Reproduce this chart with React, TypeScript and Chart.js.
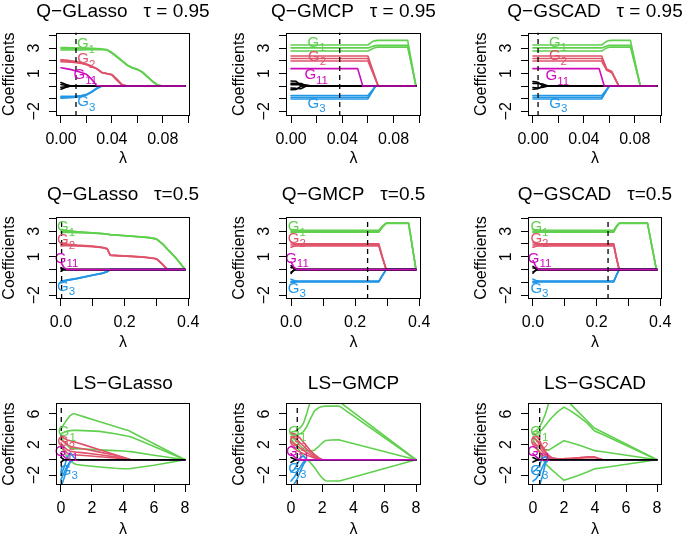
import React, { useEffect, useRef } from "react";
import { Chart, registerables } from "chart.js";

Chart.register(...registerables);

const FONT = '"Liberation Sans", Arial, Helvetica, sans-serif';
const GREEN = "#61D04F";
const RED = "#DF536B";
const MAGENTA = "#CD0BBC";
const BLUE = "#2297E6";
const BLACK = "#000000";

// ---------- axes ----------
const q95XTicks = [0, 0.02, 0.04, 0.06, 0.08, 0.1];
const q95XLabels = ["0.00", "", "0.04", "", "0.08", ""];
const q50XTicks = [0, 0.1, 0.2, 0.3, 0.4];
const q50XLabels = ["0.0", "", "0.2", "", "0.4"];
const lsXTicks = [0, 2, 4, 6, 8];
const lsXLabels = ["0", "2", "4", "6", "8"];
const qYTicks = [-2, -1, 0, 1, 2, 3, 4];
const qYLabels = ["−2", "", "", "1", "", "3", ""];
const lsYTicks = [-2, 0, 2, 4, 6];
const lsYLabels = ["−2", "", "2", "", "6"];

const q95XRange = [-0.0039, 0.1014];
const q50XRange = [-0.0156, 0.4056];
const lsXRange = [-0.32, 8.32];
const q95YRange = [-2.37, 4.24];
const q50YRange = [-2.3, 4.11];
const lsYRange = [-3.31, 7.4];

const groupSubs = ["1", "2", "11", "3"];

// ---------- Panel 1: Q-GLasso tau = 0.95 ----------
const qgl95Lambda = [0, 0.004, 0.008, 0.012, 0.016, 0.02, 0.024, 0.028, 0.032, 0.036, 0.04, 0.044, 0.048, 0.052, 0.056, 0.06, 0.064, 0.068, 0.072, 0.076, 0.08, 0.0975];
const qgl95G1 = [
  [3.05, 3.04, 3.03, 3.02, 3.01, 3.0, 2.98, 2.96, 2.94, 2.9, 2.66, 2.35, 2.02, 1.68, 1.47, 1.34, 1.12, 0.75, 0.38, 0.09, 0, 0],
  [2.95, 2.95, 2.94, 2.94, 2.93, 2.93, 2.92, 2.92, 2.91, 2.88, 2.63, 2.32, 2.0, 1.66, 1.45, 1.32, 1.1, 0.73, 0.36, 0.08, 0, 0],
  [2.85, 2.85, 2.86, 2.86, 2.86, 2.87, 2.87, 2.88, 2.88, 2.86, 2.6, 2.3, 1.97, 1.64, 1.43, 1.3, 1.08, 0.71, 0.34, 0.07, 0, 0],
];
const qgl95G2 = [
  [2.08, 2.06, 2.0, 1.95, 1.85, 1.75, 1.58, 1.4, 1.1, 1.0, 0.92, 0.55, 0.12, 0, 0, 0, 0, 0, 0, 0, 0, 0],
  [2.0, 1.98, 1.95, 1.9, 1.82, 1.72, 1.55, 1.38, 1.08, 0.99, 0.9, 0.5, 0.1, 0, 0, 0, 0, 0, 0, 0, 0, 0],
  [1.92, 1.9, 1.88, 1.85, 1.78, 1.69, 1.52, 1.36, 1.06, 0.98, 0.88, 0.45, 0.08, 0, 0, 0, 0, 0, 0, 0, 0, 0],
];
const qgl95G11 = [
  [1.45, 1.38, 1.3, 1.2, 1.08, 0.93, 0.55, 0.05, 0, 0, 0, 0, 0, 0, 0, 0, 0, 0, 0, 0, 0, 0],
];
const qgl95G3 = [
  [-0.82, -0.82, -0.81, -0.79, -0.75, -0.66, -0.45, -0.17, 0, 0, 0, 0, 0, 0, 0, 0, 0, 0, 0, 0, 0, 0],
  [-0.9, -0.89, -0.87, -0.84, -0.78, -0.69, -0.48, -0.2, 0, 0, 0, 0, 0, 0, 0, 0, 0, 0, 0, 0, 0, 0],
  [-0.97, -0.95, -0.92, -0.88, -0.82, -0.72, -0.5, -0.22, 0, 0, 0, 0, 0, 0, 0, 0, 0, 0, 0, 0, 0, 0],
];
const qgl95Other = [
  [0.28, 0.12, 0, 0, 0, 0, 0, 0, 0, 0, 0, 0, 0, 0, 0, 0, 0, 0, 0, 0, 0, 0],
  [0.12, 0.05, 0, 0, 0, 0, 0, 0, 0, 0, 0, 0, 0, 0, 0, 0, 0, 0, 0, 0, 0, 0],
  [-0.1, -0.05, 0, 0, 0, 0, 0, 0, 0, 0, 0, 0, 0, 0, 0, 0, 0, 0, 0, 0, 0, 0],
  [-0.25, -0.1, 0, 0, 0, 0, 0, 0, 0, 0, 0, 0, 0, 0, 0, 0, 0, 0, 0, 0, 0, 0],
];
const qgl95Cut = 0.0118;
const qgl95LabelX = [0.0171, 0.0174, 0.0145, 0.0174];
const qgl95LabelY = [3.32, 2.12, 0.85, -1.27];

// ---------- Panel 2: Q-GMCP tau = 0.95 ----------
const qgm95Lambda = [0, 0.004, 0.008, 0.012, 0.016, 0.052, 0.056, 0.06, 0.064, 0.066, 0.068, 0.091, 0.0975];
const qgm95G1 = [
  [3.25, 3.25, 3.25, 3.25, 3.25, 3.25, 3.25, 3.25, 3.55, 3.6, 3.62, 3.62, 0],
  [3.02, 3.02, 3.02, 3.02, 3.02, 3.02, 3.02, 3.02, 3.16, 3.2, 3.22, 3.22, 0],
  [2.78, 2.78, 2.78, 2.78, 2.78, 2.78, 2.78, 2.78, 2.98, 3.05, 3.08, 3.08, 0],
];
const qgm95G2 = [
  [2.38, 2.38, 2.38, 2.38, 2.38, 2.38, 2.38, 2.38, 1.2, 0.6, 0, 0, 0],
  [2.18, 2.18, 2.18, 2.18, 2.18, 2.18, 2.18, 2.18, 1.1, 0.55, 0, 0, 0],
  [1.98, 1.98, 1.98, 1.98, 1.98, 1.98, 1.98, 1.98, 1.0, 0.5, 0, 0, 0],
];
const qgm95G11 = [[1.38, 1.38, 1.38, 1.38, 1.38, 1.38, 0, 0, 0, 0, 0, 0, 0]];
const qgm95G3 = [
  [-0.75, -0.75, -0.75, -0.75, -0.75, -0.75, -0.75, -0.75, -0.25, 0, 0, 0, 0],
  [-0.88, -0.88, -0.88, -0.88, -0.88, -0.88, -0.88, -0.88, -0.3, 0, 0, 0, 0],
  [-1.02, -1.02, -1.02, -1.02, -1.02, -1.02, -1.02, -1.02, -0.34, 0, 0, 0, 0],
];
const qgm95Other = [
  [0.4, 0.38, 0, 0, 0, 0, 0, 0, 0, 0, 0, 0, 0],
  [0.22, 0.22, 0.2, 0, 0, 0, 0, 0, 0, 0, 0, 0, 0],
  [0.1, 0.1, 0.1, 0.08, 0, 0, 0, 0, 0, 0, 0, 0, 0],
  [-0.15, -0.18, -0.2, 0, 0, 0, 0, 0, 0, 0, 0, 0, 0],
  [-0.28, -0.26, 0, 0, 0, 0, 0, 0, 0, 0, 0, 0, 0],
];
const qgm95Cut = 0.038;
const qgm95LabelX = [0.0174, 0.0179, 0.015, 0.0174];
const qgm95LabelY = [3.45, 2.33, 0.85, -1.4];

// ---------- Panel 3: Q-GSCAD tau = 0.95 ----------
const qgs95Lambda = [0, 0.004, 0.008, 0.012, 0.016, 0.052, 0.054, 0.056, 0.058, 0.06, 0.062, 0.0675, 0.0766, 0.0844, 0.0975];
const qgs95G1 = [
  [3.25, 3.25, 3.25, 3.25, 3.25, 3.25, 3.25, 3.4, 3.55, 3.6, 3.62, 3.62, 3.62, 0, 0],
  [3.02, 3.02, 3.02, 3.02, 3.02, 3.02, 3.02, 3.1, 3.18, 3.22, 3.22, 3.22, 3.22, 0, 0],
  [2.78, 2.78, 2.78, 2.78, 2.78, 2.78, 2.78, 2.9, 3.02, 3.08, 3.08, 3.08, 3.08, 0, 0],
];
const qgs95G2 = [
  [2.38, 2.38, 2.38, 2.38, 2.38, 2.38, 2.38, 1.87, 1.35, 1.25, 1.15, 0, 0, 0, 0],
  [2.18, 2.18, 2.18, 2.18, 2.18, 2.18, 2.18, 1.74, 1.3, 1.2, 1.1, 0, 0, 0, 0],
  [1.98, 1.98, 1.98, 1.98, 1.98, 1.98, 1.98, 1.6, 1.25, 1.15, 1.05, 0, 0, 0, 0],
];
const qgs95G11 = [[1.38, 1.38, 1.38, 1.38, 1.38, 1.38, 0.69, 0, 0, 0, 0, 0, 0, 0, 0]];
const qgs95G3 = [
  [-0.75, -0.75, -0.75, -0.75, -0.75, -0.75, -0.75, -0.5, -0.25, 0, 0, 0, 0, 0, 0],
  [-0.88, -0.88, -0.88, -0.88, -0.88, -0.88, -0.88, -0.59, -0.29, 0, 0, 0, 0, 0, 0],
  [-1.02, -1.02, -1.02, -1.02, -1.02, -1.02, -1.02, -0.68, -0.34, 0, 0, 0, 0, 0, 0],
];
const qgs95Other = [
  [0.35, 0.3, 0, 0, 0, 0, 0, 0, 0, 0, 0, 0, 0, 0, 0],
  [0.2, 0.2, 0.15, 0, 0, 0, 0, 0, 0, 0, 0, 0, 0, 0, 0],
  [-0.12, -0.15, -0.1, 0, 0, 0, 0, 0, 0, 0, 0, 0, 0, 0, 0],
  [-0.25, -0.2, 0, 0, 0, 0, 0, 0, 0, 0, 0, 0, 0, 0, 0],
];
const qgs95Cut = 0.004;
const qgs95LabelX = [0.0171, 0.0171, 0.0145, 0.0174];
const qgs95LabelY = [3.45, 2.39, 0.8, -1.4];

// ---------- Panel 4: Q-GLasso tau = 0.5 ----------
const qgl50Lambda = [0, 0.01, 0.02, 0.05, 0.1, 0.13, 0.145, 0.155, 0.2, 0.25, 0.28, 0.3, 0.32, 0.335, 0.345, 0.36, 0.375, 0.39];
const qgl50G1 = [
  [3.15, 3.1, 3.06, 2.98, 2.88, 2.82, 2.78, 2.74, 2.66, 2.57, 2.5, 2.4, 2.0, 1.6, 1.35, 0.95, 0.5, 0],
  [3.02, 3.0, 2.98, 2.94, 2.86, 2.81, 2.77, 2.73, 2.65, 2.56, 2.49, 2.39, 1.99, 1.59, 1.34, 0.94, 0.49, 0],
  [2.9, 2.9, 2.9, 2.88, 2.84, 2.8, 2.76, 2.72, 2.64, 2.55, 2.48, 2.38, 1.98, 1.58, 1.33, 0.93, 0.48, 0],
];
const qgl50G2 = [
  [2.1, 2.05, 2.0, 1.92, 1.83, 1.75, 1.65, 1.13, 1.07, 1.0, 0.93, 0.85, 0.4, 0, 0, 0, 0, 0],
  [1.97, 1.95, 1.93, 1.88, 1.8, 1.73, 1.63, 1.12, 1.06, 0.99, 0.92, 0.84, 0.39, 0, 0, 0, 0, 0],
  [1.85, 1.86, 1.86, 1.84, 1.78, 1.71, 1.61, 1.11, 1.05, 0.98, 0.91, 0.83, 0.38, 0, 0, 0, 0, 0],
];
const qgl50G11 = [[0.55, 0.15, 0, 0, 0, 0, 0, 0, 0, 0, 0, 0, 0, 0, 0, 0, 0, 0]];
const qgl50G3 = [
  [-0.9, -0.85, -0.8, -0.69, -0.43, -0.28, -0.15, 0, 0, 0, 0, 0, 0, 0, 0, 0, 0, 0],
  [-0.98, -0.9, -0.83, -0.7, -0.44, -0.29, -0.16, 0, 0, 0, 0, 0, 0, 0, 0, 0, 0, 0],
  [-1.05, -0.95, -0.86, -0.71, -0.45, -0.3, -0.17, 0, 0, 0, 0, 0, 0, 0, 0, 0, 0, 0],
];
const qgl50Other = [
  [0.15, 0, 0, 0, 0, 0, 0, 0, 0, 0, 0, 0, 0, 0, 0, 0, 0, 0],
  [-0.12, 0, 0, 0, 0, 0, 0, 0, 0, 0, 0, 0, 0, 0, 0, 0, 0, 0],
  [0.06, 0.02, 0, 0, 0, 0, 0, 0, 0, 0, 0, 0, 0, 0, 0, 0, 0, 0],
];
const qgl50Cut = 0.002;
const qgl50LabelX = [0.006, 0.006, -0.001, 0.006];
const qgl50LabelY = [3.34, 2.3, 0.87, -1.34];

// ---------- Panel 5: Q-GMCP tau = 0.5 ----------
const qgm50Lambda = [0, 0.01, 0.02, 0.274, 0.285, 0.297, 0.367, 0.39];
const qgm50G1 = [
  [3.12, 3.1, 3.08, 3.08, 3.4, 3.63, 3.63, 0],
  [3.0, 3.0, 3.0, 3.0, 3.35, 3.62, 3.62, 0],
  [2.88, 2.9, 2.92, 2.92, 3.3, 3.61, 3.61, 0],
];
const qgm50G2 = [
  [2.1, 2.04, 2.02, 2.02, 1.0, 0, 0, 0],
  [1.92, 1.93, 1.93, 1.93, 0.96, 0, 0, 0],
  [1.75, 1.82, 1.84, 1.84, 0.92, 0, 0, 0],
];
const qgm50G11 = [[0.6, 0.15, 0, 0, 0, 0, 0, 0]];
const qgm50G3 = [
  [-0.75, -0.86, -0.9, -0.9, -0.45, 0, 0, 0],
  [-0.92, -0.93, -0.93, -0.93, -0.46, 0, 0, 0],
  [-1.02, -0.98, -0.96, -0.96, -0.48, 0, 0, 0],
];
const qgm50Other = [
  [0.3, 0.1, 0, 0, 0, 0, 0, 0],
  [0.15, 0.12, 0, 0, 0, 0, 0, 0],
  [-0.2, -0.05, 0, 0, 0, 0, 0, 0],
  [-0.3, 0, 0, 0, 0, 0, 0, 0],
];
const qgm50Cut = 0.239;
const qgm50LabelX = [0.0084, 0.0084, 0.0, 0.0084];
const qgm50LabelY = [3.34, 2.43, 0.87, -1.47];

// ---------- Panel 6: Q-GSCAD tau = 0.5 ----------
const qgs50Lambda = [0, 0.01, 0.02, 0.254, 0.262, 0.271, 0.36, 0.388, 0.39];
const qgs50G1 = [
  [3.12, 3.1, 3.08, 3.08, 3.4, 3.63, 3.63, 0, 0],
  [3.0, 3.0, 3.0, 3.0, 3.35, 3.62, 3.62, 0, 0],
  [2.88, 2.9, 2.92, 2.92, 3.3, 3.61, 3.61, 0, 0],
];
const qgs50G2 = [
  [2.1, 2.04, 2.02, 2.02, 1.0, 0, 0, 0, 0],
  [1.92, 1.93, 1.93, 1.93, 0.96, 0, 0, 0, 0],
  [1.75, 1.82, 1.84, 1.84, 0.92, 0, 0, 0, 0],
];
const qgs50G11 = [[0.7, 0.2, 0, 0, 0, 0, 0, 0, 0]];
const qgs50G3 = [
  [-0.75, -0.86, -0.9, -0.9, -0.45, 0, 0, 0, 0],
  [-0.92, -0.93, -0.93, -0.93, -0.46, 0, 0, 0, 0],
  [-1.02, -0.98, -0.96, -0.96, -0.48, 0, 0, 0, 0],
];
const qgs50Other = [
  [0.25, 0.08, 0, 0, 0, 0, 0, 0, 0],
  [0.12, 0.1, 0, 0, 0, 0, 0, 0, 0],
  [-0.18, -0.05, 0, 0, 0, 0, 0, 0, 0],
  [-0.28, 0, 0, 0, 0, 0, 0, 0, 0],
];
const qgs50Cut = 0.236;
const qgs50LabelX = [0.0104, 0.0104, 0.002, 0.0104];
const qgs50LabelY = [3.34, 2.43, 0.87, -1.47];

// ---------- Panel 7: LS-GLasso ----------
const lsglLambda = [0, 0.2, 0.4, 0.6, 0.8, 1.0, 1.5, 2.5, 3.5, 4.0, 4.4, 4.5, 6.0, 8.0];
const lsglG1 = [
  [4.0, 4.7, 5.3, 5.8, 6.05, 5.93, 5.62, 4.99, 4.36, 4.04, 3.79, 3.67, 2.1, 0],
  [3.4, 3.6, 3.75, 3.82, 3.85, 3.85, 3.82, 3.72, 3.4, 3.2, 3.05, 3.0, 1.75, 0],
  [2.9, 2.4, 1.9, 1.5, 1.45, 1.43, 1.4, 1.3, 1.2, 1.14, 1.08, 1.06, 0.6, 0],
  [1.8, 1.0, 0.4, -0.1, -0.45, -0.63, -0.75, -0.95, -1.12, -1.17, -1.17, -1.15, -0.72, 0],
];
const lsglG2 = [
  [3.1, 2.8, 2.6, 2.5, 2.4, 2.27, 1.95, 1.3, 0.65, 0.33, 0.05, 0, 0, 0],
  [2.6, 2.3, 2.0, 1.75, 1.65, 1.58, 1.4, 1.0, 0.58, 0.32, 0.06, 0, 0, 0],
  [2.2, 1.7, 1.3, 1.1, 1.05, 1.0, 0.9, 0.65, 0.38, 0.2, 0.03, 0, 0, 0],
  [1.8, 1.3, 0.9, 0.7, 0.65, 0.62, 0.55, 0.4, 0.22, 0.1, 0, 0, 0, 0],
];
const lsglG11 = [[0.9, 0.4, 0.1, 0, 0, 0, 0, 0, 0, 0, 0, 0, 0, 0]];
const lsglG3 = [
  [-3.6, -2.4, -1.1, -0.3, 0, 0, 0, 0, 0, 0, 0, 0, 0, 0],
  [-2.6, -1.7, -0.8, -0.2, 0, 0, 0, 0, 0, 0, 0, 0, 0, 0],
  [-2.0, -1.0, 0.3, 0.9, 0.4, 0, 0, 0, 0, 0, 0, 0, 0, 0],
];
const lsglOther = [
  [0.3, 0, 0, 0, 0, 0, 0, 0, 0, 0, 0, 0, 0, 0],
  [-0.3, 0, 0, 0, 0, 0, 0, 0, 0, 0, 0, 0, 0, 0],
];
const lsglCut = 0.02;
const lsglLabelX = [0.17, 0.13, -0.02, 0.3];
const lsglLabelY = [3.6, 2.4, 1.0, -1.4];

// ---------- Panel 8: LS-GMCP ----------
const lsgmLambda = [0, 0.2, 0.4, 0.6, 0.8, 1.0, 1.2, 1.5, 1.8, 2.0, 2.2, 2.6, 3.1, 8];
const lsgmG1 = [
  [3.6, 3.7, 3.9, 4.2, 4.8, 6.0, 7.4, 8.3, 8.6, 8.6, 8.5, 8.3, 7.6, 0],
  [3.3, 3.3, 3.3, 3.4, 3.7, 4.3, 5.2, 6.4, 6.85, 6.98, 7.03, 7.03, 7.03, 0],
  [3.0, 2.7, 2.3, 1.8, 1.4, 1.2, 1.15, 1.25, 1.8, 2.2, 2.52, 2.58, 2.6, 0],
  [2.7, 2.2, 1.6, 1.0, 0.5, 0.1, -0.3, -1.0, -1.9, -2.4, -2.75, -2.78, -2.78, 0],
];
const lsgmG2 = [
  [3.5, 3.4, 3.2, 2.8, 2.3, 1.8, 1.3, 0.7, 0.25, 0, 0, 0, 0, 0],
  [3.0, 2.9, 2.6, 2.2, 1.8, 1.4, 1.0, 0.5, 0.18, 0, 0, 0, 0, 0],
  [2.4, 2.1, 1.8, 1.5, 1.2, 0.95, 0.7, 0.35, 0.12, 0, 0, 0, 0, 0],
  [1.8, 1.5, 1.2, 1.0, 0.8, 0.6, 0.45, 0.22, 0.06, 0, 0, 0, 0, 0],
];
const lsgmG11 = [[0.8, 0.4, 0.1, 0, 0, 0, 0, 0, 0, 0, 0, 0, 0, 0]];
const lsgmG3 = [
  [-3.6, -3.2, -2.5, -1.5, -0.6, 0, 0, 0, 0, 0, 0, 0, 0, 0],
  [-2.8, -2.3, -1.6, -0.9, -0.3, 0, 0, 0, 0, 0, 0, 0, 0, 0],
  [-1.6, -1.3, -0.6, 0.3, 0.5, 0, 0, 0, 0, 0, 0, 0, 0, 0],
];
const lsgmOther = [
  [0.3, 0.1, 0, 0, 0, 0, 0, 0, 0, 0, 0, 0, 0, 0],
  [-0.35, -0.1, 0, 0, 0, 0, 0, 0, 0, 0, 0, 0, 0, 0],
];
const lsgmCut = 0.4;
const lsgmLabelX = [0.2, 0.25, 0.05, 0.2];
const lsgmLabelY = [3.6, 2.3, 1.0, -1.2];

// ---------- Panel 9: LS-GSCAD ----------
const lsgsLambda = [0, 0.2, 0.4, 0.6, 0.8, 1.0, 1.2, 1.6, 2.0, 2.35, 3.0, 3.5, 3.95, 4.5, 8];
const lsgsG1 = [
  [3.6, 3.8, 4.2, 5.0, 6.0, 7.3, 8.2, 8.6, 8.3, 7.45, 6.11, 5.08, 4.15, 3.6, 0],
  [3.3, 3.4, 3.6, 4.0, 4.5, 5.0, 5.5, 6.3, 6.9, 6.5, 5.6, 4.8, 3.8, 3.3, 0],
  [3.0, 2.7, 2.2, 1.7, 1.3, 1.25, 1.5, 2.0, 2.5, 2.3, 1.9, 1.55, 1.2, 1.05, 0],
  [2.7, 1.9, 1.0, 0.2, -0.55, -0.9, -1.3, -2.0, -2.7, -2.45, -2.0, -1.6, -1.2, -1.05, 0],
];
const lsgsG2 = [
  [3.4, 3.2, 2.6, 1.8, 1.1, 0.6, 0.3, 0.12, 0.15, 0.2, 0.28, 0.38, 0.4, 0, 0],
  [2.9, 2.6, 2.1, 1.5, 0.9, 0.45, 0.2, 0.08, 0.1, 0.14, 0.2, 0.28, 0.3, 0, 0],
  [2.3, 2.0, 1.6, 1.1, 0.6, 0.25, 0.05, 0, 0, 0, 0, 0, 0, 0, 0],
  [1.8, 1.5, 1.1, 0.7, 0.35, 0.1, 0, 0, 0, 0, 0, 0, 0, 0, 0],
];
const lsgsG11 = [[0.8, 0.4, 0.1, 0, 0, 0, 0, 0, 0, 0, 0, 0, 0, 0, 0]];
const lsgsG3 = [
  [-4.2, -3.9, -3.5, -2.2, -0.5, 0, 0, 0, 0, 0, 0, 0, 0, 0, 0],
  [-2.8, -2.5, -1.9, -1.0, -0.2, 0, 0, 0, 0, 0, 0, 0, 0, 0, 0],
  [-1.6, -1.3, -0.8, 0.2, 0.4, 0, 0, 0, 0, 0, 0, 0, 0, 0, 0],
];
const lsgsOther = [
  [0.3, 0.1, 0, 0, 0, 0, 0, 0, 0, 0, 0, 0, 0, 0, 0],
  [-0.3, -0.1, 0, 0, 0, 0, 0, 0, 0, 0, 0, 0, 0, 0, 0],
];
const lsgsCut = 0.43;
const lsgsLabelX = [0.2, 0.2, 0.0, 0.2];
const lsgsLabelY = [3.6, 2.4, 1.0, -1.4];

// ---------- layout (pixels) ----------
const colLeft = [0, 230, 472];
const colWidth = [246, 247, 246];
const rowTop = [0, 176, 362];
const rowHeight = [172, 179, 179];
const rowTitlePad = [
  { top: 0.6, bottom: 9.1 },
  { top: 7.6, bottom: 10.6 },
  { top: 9.9, bottom: 8.6 },
];
const rowXTitlePad = [3.4, 2.9, 1.4];

const rowAxes = [
  { xTicks: q95XTicks, xLabels: q95XLabels, xRange: q95XRange, yTicks: qYTicks, yLabels: qYLabels, yRange: q95YRange },
  { xTicks: q50XTicks, xLabels: q50XLabels, xRange: q50XRange, yTicks: qYTicks, yLabels: qYLabels, yRange: q50YRange },
  { xTicks: lsXTicks, xLabels: lsXLabels, xRange: lsXRange, yTicks: lsYTicks, yLabels: lsYLabels, yRange: lsYRange },
];

const panels = [
  { row: 0, col: 0, title: "Q−GLasso   τ = 0.95", lambda: qgl95Lambda, g1: qgl95G1, g2: qgl95G2, g11: qgl95G11, g3: qgl95G3, other: qgl95Other, cut: qgl95Cut, lx: qgl95LabelX, ly: qgl95LabelY, blackTop: false },
  { row: 0, col: 1, title: "Q−GMCP   τ = 0.95", lambda: qgm95Lambda, g1: qgm95G1, g2: qgm95G2, g11: qgm95G11, g3: qgm95G3, other: qgm95Other, cut: qgm95Cut, lx: qgm95LabelX, ly: qgm95LabelY, blackTop: false },
  { row: 0, col: 2, title: "Q−GSCAD   τ = 0.95", lambda: qgs95Lambda, g1: qgs95G1, g2: qgs95G2, g11: qgs95G11, g3: qgs95G3, other: qgs95Other, cut: qgs95Cut, lx: qgs95LabelX, ly: qgs95LabelY, blackTop: false },
  { row: 1, col: 0, title: "Q−GLasso   τ=0.5", lambda: qgl50Lambda, g1: qgl50G1, g2: qgl50G2, g11: qgl50G11, g3: qgl50G3, other: qgl50Other, cut: qgl50Cut, lx: qgl50LabelX, ly: qgl50LabelY, blackTop: false },
  { row: 1, col: 1, title: "Q−GMCP   τ=0.5", lambda: qgm50Lambda, g1: qgm50G1, g2: qgm50G2, g11: qgm50G11, g3: qgm50G3, other: qgm50Other, cut: qgm50Cut, lx: qgm50LabelX, ly: qgm50LabelY, blackTop: false },
  { row: 1, col: 2, title: "Q−GSCAD   τ=0.5", lambda: qgs50Lambda, g1: qgs50G1, g2: qgs50G2, g11: qgs50G11, g3: qgs50G3, other: qgs50Other, cut: qgs50Cut, lx: qgs50LabelX, ly: qgs50LabelY, blackTop: false },
  { row: 2, col: 0, title: "LS−GLasso", lambda: lsglLambda, g1: lsglG1, g2: lsglG2, g11: lsglG11, g3: lsglG3, other: lsglOther, cut: lsglCut, lx: lsglLabelX, ly: lsglLabelY, blackTop: true },
  { row: 2, col: 1, title: "LS−GMCP", lambda: lsgmLambda, g1: lsgmG1, g2: lsgmG2, g11: lsgmG11, g3: lsgmG3, other: lsgmOther, cut: lsgmCut, lx: lsgmLabelX, ly: lsgmLabelY, blackTop: false },
  { row: 2, col: 2, title: "LS−GSCAD", lambda: lsgsLambda, g1: lsgsG1, g2: lsgsG2, g11: lsgsG11, g3: lsgsG3, other: lsgsOther, cut: lsgsCut, lx: lsgsLabelX, ly: lsgsLabelY, blackTop: true },
];

function buildDatasets(p: any, yRange: number[]) {
  const ds: any[] = [];
  const add = (lines: number[][], color: string, order: number) => {
    lines.forEach((vals) => {
      ds.push({
        data: p.lambda.map((x: number, i: number) => ({ x, y: vals[i] })),
        borderColor: color,
        borderWidth: 1.6,
        pointRadius: 0,
        fill: false,
        tension: 0,
        borderJoinStyle: "round",
        borderCapStyle: "round",
        order,
      });
    });
  };
  add(p.g1, GREEN, 5);
  add(p.g2, RED, 4);
  add(p.g3, BLUE, 3);
  add(p.other, BLACK, p.blackTop ? 1 : 2);
  add(p.g11, MAGENTA, p.blackTop ? 2 : 1);
  ds.push({
    data: [
      { x: p.cut, y: yRange[0] },
      { x: p.cut, y: yRange[1] },
    ],
    borderColor: BLACK,
    borderWidth: 1.3,
    borderDash: [5, 4],
    pointRadius: 0,
    fill: false,
    order: 0,
  });
  return ds;
}

function Panel({ p }: { p: any }) {
  const ref = useRef<HTMLCanvasElement | null>(null);
  const ax = rowAxes[p.row];
  const left = colLeft[p.col];
  const top = rowTop[p.row];
  const w = colWidth[p.col];
  const h = rowHeight[p.row];

  useEffect(() => {
    if (!ref.current) return;
    const groupColors = [GREEN, RED, MAGENTA, BLUE];
    const decor = {
      id: "decor",
      afterDatasetsDraw(chart: any) {
        const { ctx, chartArea: a, scales } = chart;
        const xs = scales.x;
        const ys = scales.y;
        ctx.save();
        p.lx.forEach((lx: number, i: number) => {
          const px = xs.getPixelForValue(lx);
          const py = ys.getPixelForValue(p.ly[i]);
          ctx.fillStyle = groupColors[i];
          ctx.font = `15px ${FONT}`;
          ctx.textAlign = "center";
          ctx.textBaseline = "middle";
          ctx.fillText("G", px, py);
          const gw = ctx.measureText("G").width;
          ctx.font = `11.5px ${FONT}`;
          ctx.textAlign = "left";
          ctx.fillText(groupSubs[i], px + gw / 2, py + 5.5);
        });
        ctx.strokeStyle = "#000";
        ctx.lineWidth = 1;
        const l = Math.round(a.left) + 0.5;
        const t = Math.round(a.top) + 0.5;
        const r = Math.round(a.right) - 0.5;
        const b = Math.round(a.bottom) - 0.5;
        ctx.strokeRect(l, t, r - l, b - t);
        ctx.restore();
      },
    };
    const tickFont = { family: FONT, size: 16 };
    const chart = new Chart(ref.current, {
      type: "line",
      data: { datasets: buildDatasets(p, ax.yRange) },
      options: {
        responsive: false,
        animation: false,
        devicePixelRatio: 1,
        layout: { padding: 0 },
        plugins: {
          legend: { display: false },
          tooltip: { enabled: false },
          title: {
            display: true,
            text: p.title,
            fullSize: true,
            color: "#000",
            font: { family: FONT, size: 19, weight: "normal", lineHeight: 1.2 },
            padding: rowTitlePad[p.row],
          },
        },
        scales: {
          x: {
            type: "linear",
            min: ax.xRange[0],
            max: ax.xRange[1],
            afterBuildTicks: (s: any) => {
              s.ticks = ax.xTicks.map((v: number) => ({ value: v }));
            },
            afterFit: (s: any) => {
              s.height = 56;
              s.paddingLeft = 0;
              s.paddingRight = 0;
            },
            ticks: {
              autoSkip: false,
              minRotation: 0,
              maxRotation: 0,
              padding: 7.4,
              color: "#000",
              font: tickFont,
              callback: (_v: any, i: number) => ax.xLabels[i],
            },
            grid: { drawOnChartArea: false, drawTicks: true, tickLength: 7, color: "#000", lineWidth: 1 },
            border: { display: false },
            title: {
              display: true,
              text: "λ",
              color: "#000",
              font: { family: FONT, size: 16, lineHeight: 1.2 },
              padding: { top: 0, bottom: rowXTitlePad[p.row] },
            },
          },
          y: {
            type: "linear",
            position: "left",
            min: ax.yRange[0],
            max: ax.yRange[1],
            afterBuildTicks: (s: any) => {
              s.ticks = ax.yTicks.map((v: number) => ({ value: v }));
            },
            afterFit: (s: any) => {
              s.width = 56;
              s.paddingTop = 0;
              s.paddingBottom = 0;
            },
            ticks: {
              autoSkip: false,
              minRotation: 90,
              maxRotation: 90,
              crossAlign: "center",
              padding: 5.4,
              color: "#000",
              font: tickFont,
              callback: (_v: any, i: number) => ax.yLabels[i],
            },
            grid: { drawOnChartArea: false, drawTicks: true, tickLength: 7, color: "#000", lineWidth: 1 },
            border: { display: false },
            title: {
              display: true,
              text: "Coefficients",
              color: "#000",
              font: { family: FONT, size: 16, lineHeight: 1.2 },
              padding: { top: 0, bottom: 0 },
            },
          },
          yRight: {
            type: "linear",
            position: "right",
            display: true,
            min: ax.yRange[0],
            max: ax.yRange[1],
            afterFit: (s: any) => {
              s.width = 56;
              s.paddingTop = 0;
              s.paddingBottom = 0;
            },
            ticks: { display: false },
            grid: { display: false, drawTicks: false },
            border: { display: false },
            title: { display: false },
          },
        },
      },
      plugins: [decor],
    } as any);
    return () => chart.destroy();
  }, []);

  return (
    <canvas
      ref={ref}
      width={w}
      height={h}
      style={{ position: "absolute", left, top, width: w, height: h }}
    />
  );
}

export default function App() {
  return (
    <div
      style={{
        position: "absolute",
        left: 0,
        top: 0,
        width: 685,
        height: 541,
        background: "#ffffff",
        overflow: "hidden",
      }}
    >
      {panels.map((p, i) => (
        <Panel key={i} p={p} />
      ))}
    </div>
  );
}
